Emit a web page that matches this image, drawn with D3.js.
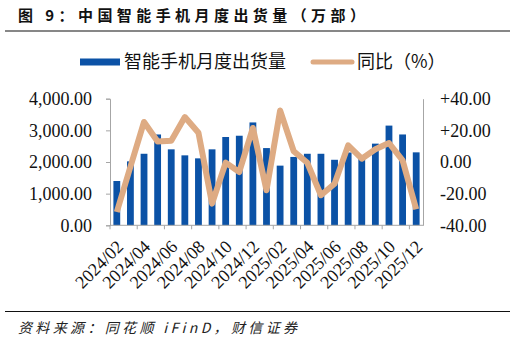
<!DOCTYPE html>
<html>
<head>
<meta charset="utf-8">
<script src="https://cdn.jsdelivr.net/npm/d3@7"></script>
<style>
  body { margin: 0; background: #fff; }
  svg { display: block; }
</style>
</head>
<body>
<div id="chart"></div>
<script>
// data
var months = ["2024/02","2024/03","2024/04","2024/05","2024/06","2024/07","2024/08","2024/09",
              "2024/10","2024/11","2024/12","2025/01","2025/02","2025/03","2025/04","2025/05",
              "2025/06","2025/07","2025/08","2025/09","2025/10","2025/11","2025/12"];
var shipments = [1400, 2020, 2260, 2870, 2400, 2210, 2115, 2400, 2790, 2830, 3250, 2440,
                 1885, 2160, 2260, 2260, 2070, 2300, 2130, 2580, 3150, 2870, 2305];
var yoy = [-31.6, -3, 25.3, 13, 13.5, 28.4, 18.5, -26.3, -0.4, -6.3, 21.5, -17.9,
           32.6, 6.8, -0.5, -21, -13.7, 10.5, 2.1, 8, 12, 1, -29.9];
var leftTicks = [0, 1000, 2000, 3000, 4000];
var rightTicks = [-40, -20, 0, 20, 40];

var W = 515, H = 343;
var plot = {left: 110, right: 423, top: 98.7, bottom: 225.3};

var barColor = "#0b52a6",
    lineColor = "#deab83",
    axisColor = "#a6a6a6";

var svg = d3.select("#chart").append("svg")
    .attr("width", W)
    .attr("height", H);

// set the ranges
var x = d3.scaleBand()
    .domain(months)
    .range([plot.left, plot.right])
    .paddingInner(0.5)
    .paddingOuter(0.25);
var yL = d3.scaleLinear().domain([0, 4000]).range([plot.bottom, plot.top]);
var yR = d3.scaleLinear().domain([-40, 40]).range([plot.bottom, plot.top]);

// title + rules
svg.append("text")
    .attr("x", 18)
    .attr("y", 21)
    .attr("textLength", 347)
    .attr("lengthAdjust", "spacing")
    .style("font-family", "'Noto Sans CJK SC', sans-serif")
    .style("font-weight", "bold")
    .style("font-size", "15px")
    .attr("fill", "#111")
    .text("图 9：中国智能手机月度出货量（万部）");
svg.append("line")
    .attr("x1", 5).attr("x2", 510)
    .attr("y1", 31).attr("y2", 31)
    .attr("stroke", "#111").attr("stroke-width", 1.2);
svg.append("line")
    .attr("x1", 5).attr("x2", 510)
    .attr("y1", 311.5).attr("y2", 311.5)
    .attr("stroke", "#111").attr("stroke-width", 1.2);
svg.append("text")
    .attr("x", 18)
    .attr("y", 333)
    .attr("textLength", 279)
    .attr("lengthAdjust", "spacing")
    .style("font-family", "'Noto Sans CJK SC', sans-serif")
    .style("font-style", "italic")
    .style("font-size", "14px")
    .attr("fill", "#222")
    .text("资料来源：同花顺 iFinD，财信证券");

// legend
var legend = svg.append("g")
    .style("font-family", "'Noto Sans CJK SC', sans-serif")
    .style("font-size", "18px")
    .attr("fill", "#111");
legend.append("rect")
    .attr("x", 80).attr("y", 58.5)
    .attr("width", 40).attr("height", 7)
    .attr("fill", barColor);
legend.append("text")
    .attr("x", 124).attr("y", 62)
    .attr("dy", "0.35em")
    .text("智能手机月度出货量");
legend.append("line")
    .attr("x1", 313).attr("x2", 352)
    .attr("y1", 62).attr("y2", 62)
    .attr("stroke", lineColor)
    .attr("stroke-width", 5)
    .attr("stroke-linecap", "round");
legend.append("text")
    .attr("x", 357).attr("y", 62)
    .attr("dy", "0.35em")
    .text("同比（%）");

// bars
svg.selectAll(".bar")
    .data(shipments)
  .enter().append("rect")
    .attr("class", "bar")
    .attr("fill", barColor)
    .attr("x", function(d, i) { return x(months[i]); })
    .attr("width", x.bandwidth())
    .attr("y", function(d) { return yL(d); })
    .attr("height", function(d) { return yL(0) - yL(d); });

// yoy line
var line = d3.line()
    .x(function(d, i) { return x(months[i]) + x.bandwidth() / 2; })
    .y(function(d) { return yR(d); });
svg.append("path")
    .datum(yoy)
    .attr("fill", "none")
    .attr("stroke", lineColor)
    .attr("stroke-width", 6)
    .attr("stroke-linejoin", "round")
    .attr("d", line);

// left axis
svg.append("g")
    .attr("transform", "translate(" + plot.left + ",0)")
    .call(d3.axisLeft(yL).tickValues(leftTicks).tickSize(4).tickPadding(14)
          .tickFormat(d3.format(",.2f")))
    .call(function(g) {
      g.select(".domain").attr("stroke", axisColor);
      g.selectAll(".tick line").attr("stroke", axisColor);
      g.selectAll("text")
        .style("font-family", "'Liberation Serif', 'Times New Roman', serif")
        .style("font-size", "18px")
        .attr("fill", "#111");
    });

// right axis
svg.append("g")
    .attr("transform", "translate(" + plot.right + ",0)")
    .call(d3.axisRight(yR).tickValues(rightTicks).tickSize(0).tickPadding(17)
          .tickFormat(function(d) { return (d > 0 ? "+" : "") + d.toFixed(2); }))
    .call(function(g) {
      g.select(".domain").attr("stroke", axisColor);
      g.selectAll("text")
        .style("font-family", "'Liberation Serif', 'Times New Roman', serif")
        .style("font-size", "18px")
        .attr("fill", "#111");
    });

// bottom axis: ticks every two categories, labels on every other month
var bottom = svg.append("g");
bottom.append("line")
    .attr("x1", plot.left).attr("x2", plot.right)
    .attr("y1", plot.bottom).attr("y2", plot.bottom)
    .attr("stroke", axisColor);
var step = (plot.right - plot.left) / months.length;
bottom.selectAll(".xtick")
    .data(d3.range(0, months.length, 2))
  .enter().append("line")
    .attr("x1", function(i) { return plot.left + i * step; })
    .attr("x2", function(i) { return plot.left + i * step; })
    .attr("y1", plot.bottom)
    .attr("y2", plot.bottom + 4)
    .attr("stroke", axisColor);
bottom.selectAll(".xlabel")
    .data(months.filter(function(d, i) { return i % 2 === 0; }))
  .enter().append("text")
    .attr("text-anchor", "end")
    .attr("transform", function(d) {
      return "translate(" + (x(d) + x.bandwidth() / 2 + 3) + "," + (plot.bottom + 18) + ") rotate(-45)";
    })
    .attr("dy", "0.35em")
    .style("font-family", "'Liberation Serif', 'Times New Roman', serif")
    .style("font-size", "18px")
    .attr("fill", "#111")
    .text(function(d) { return d; });
</script>
</body>
</html>
